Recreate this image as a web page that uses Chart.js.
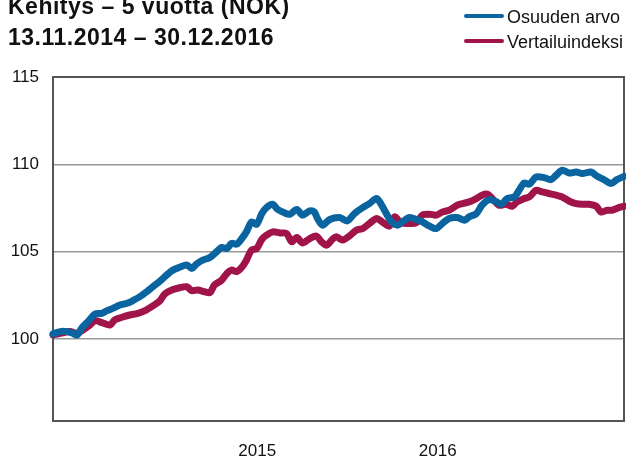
<!DOCTYPE html>
<html>
<head>
<meta charset="utf-8">
<script src="https://cdn.jsdelivr.net/npm/chart.js@4.4.1/dist/chart.umd.min.js"></script>
<style>
  html, body { margin: 0; padding: 0; background: #fff; }
  #wrap { position: relative; width: 626px; height: 457px; overflow: hidden; font-family: "Liberation Sans", Arial, sans-serif; }
  #c { position: absolute; left: 0; top: 0; }
  .title { position: absolute; left: 8px; font-weight: bold; font-size: 23px; line-height: 23px; letter-spacing: 0.5px; color: #111; white-space: nowrap; }
  .leg { position: absolute; left: 464px; font-size: 18px; line-height: 18px; color: #111; white-space: nowrap; }
  .leg span.sw { display: inline-block; width: 40px; height: 4px; border-radius: 2px; vertical-align: middle; margin-right: 3px; position: relative; top: -2px; }
</style>
</head>
<body>
<div id="wrap">
  <canvas id="c" width="626" height="457"></canvas>
  <div class="title" style="top:-5.5px">Kehitys – 5 vuotta (NOK)</div>
  <div class="title" style="top:25.5px">13.11.2014 – 30.12.2016</div>
  <div class="leg" style="top:8px"><span class="sw" style="background:#0a64a0"></span>Osuuden arvo</div>
  <div class="leg" style="top:33px"><span class="sw" style="background:#a0144a"></span>Vertailuindeksi</div>
</div>
<script>
// Series names
const seriesNames = ["Osuuden arvo", "Vertailuindeksi"];

// Osuuden arvo: week offsets from 13.11.2014 and index values
const blueWeeks = [0,1.4,2.7,3.9,4.7,5.6,6.8,8.2,9.5,10.5,11.6,13.0,14.4,15.5,16.9,18.2,19.4,20.8,22.1,23.3,24.6,26.0,27.0,27.9,29.1,30.5,31.8,32.8,33.8,34.7,35.7,36.7,37.6,38.6,39.6,40.6,41.5,42.7,43.7,45.0,46.0,47.4,48.5,49.9,50.8,51.4,52.4,53.8,55.7,57.2,58.6,60.2,61.5,62.9,63.8,64.8,65.8,67.0,67.9,69.3,70.6,71.8,73.2,74.5,75.7,77.0,78.6,80.0,80.9,82.3,83.4,84.8,86.2,87.1,88.3,89.7,90.6,91.6,92.6,93.9,95.5,96.8,97.8,99.0,100.3,101.7,102.9,104.6,105.8,107.1,108.5,109.6,111.0];
const blueValues = [100.29,100.42,100.42,100.32,100.23,100.63,100.99,101.43,101.47,101.62,101.75,101.94,102.04,102.19,102.42,102.70,102.99,103.31,103.66,103.94,104.10,104.23,104.04,104.29,104.51,104.67,104.99,105.24,105.18,105.47,105.43,105.75,106.13,106.70,106.57,107.18,107.52,107.71,107.41,107.22,107.14,107.41,107.09,107.33,107.27,106.90,106.51,106.84,106.95,106.76,107.18,107.52,107.75,108.04,107.71,107.18,106.70,106.51,106.70,106.95,106.84,106.70,106.46,106.32,106.61,106.90,106.95,106.80,106.99,107.18,107.66,107.98,107.85,107.71,108.04,108.13,108.51,108.93,108.86,109.27,109.24,109.12,109.37,109.66,109.50,109.56,109.47,109.56,109.31,109.12,108.90,109.12,109.31];

// Vertailuindeksi: week offsets and index values
const redWeeks = [0,1.4,3.3,4.7,5.8,7.2,8.2,9.5,11.1,12.0,13.4,14.9,16.5,17.9,19.4,20.8,21.7,23.1,24.6,26.0,27.0,28.1,29.5,30.5,31.4,32.8,33.8,34.7,35.7,36.7,37.6,38.6,39.6,40.6,41.5,42.7,44.1,45.4,46.4,47.4,48.5,49.9,51.2,52.2,53.2,54.3,55.1,56.3,57.6,59.0,60.2,61.5,62.9,64.0,65.4,66.4,67.7,69.3,70.6,71.8,73.2,74.5,75.7,77.0,78.6,79.6,80.9,82.3,83.4,84.4,85.4,86.7,88.1,89.3,90.2,91.6,92.6,93.9,95.1,96.4,97.8,99.0,100.3,101.7,102.9,104.2,105.6,106.5,107.7,108.7,110.0,111.0];
const redValues = [100.23,100.32,100.42,100.32,100.51,100.80,101.05,100.93,100.80,101.09,101.24,101.37,101.47,101.62,101.89,102.19,102.57,102.80,102.93,102.99,102.76,102.80,102.70,102.65,103.09,103.37,103.75,103.94,103.85,104.10,104.51,105.09,105.18,105.70,105.94,106.13,106.07,106.04,105.56,105.81,105.50,105.75,105.89,105.56,105.37,105.70,105.85,105.66,105.89,106.23,106.32,106.61,106.90,106.70,106.46,106.99,106.65,106.61,106.65,107.09,107.14,107.09,107.27,107.37,107.66,107.75,107.85,108.04,108.23,108.29,108.04,107.66,107.71,107.60,107.85,108.04,108.13,108.51,108.42,108.33,108.23,108.13,107.90,107.75,107.71,107.71,107.60,107.27,107.37,107.37,107.52,107.60];

// Axis ticks
const yTickValues = [100, 105, 110, 115];
const xTickWeeks = [39.7, 74.8];
const xTickLabels = ["2015", "2016"];

const toPoints = (xs, ys) => xs.map((x, i) => ({ x: x, y: ys[i] }));

const boxPlugin = {
  id: 'box',
  beforeDatasetsDraw(chart) {
    const a = chart.chartArea, ctx = chart.ctx;
    ctx.save();
    ctx.strokeStyle = '#555';
    ctx.lineWidth = 2;
    ctx.strokeRect(a.left, a.top, a.right - a.left, a.bottom - a.top);
    ctx.restore();
  }
};

new Chart(document.getElementById('c'), {
  type: 'line',
  data: {
    datasets: [
      { label: seriesNames[0], data: toPoints(blueWeeks, blueValues), borderColor: '#0a64a0', backgroundColor: '#0a64a0', borderWidth: 7, pointRadius: 0, tension: 0.3, borderCapStyle: 'round', borderJoinStyle: 'round' },
      { label: seriesNames[1], data: toPoints(redWeeks, redValues), borderColor: '#a0144a', backgroundColor: '#a0144a', borderWidth: 7, pointRadius: 0, tension: 0.3, borderCapStyle: 'round', borderJoinStyle: 'round', order: 1 }
    ]
  },
  options: {
    responsive: false,
    animation: false,
    clip: false,
    layout: { padding: { left: 0, right: 2, top: 77, bottom: 0 } },
    plugins: { legend: { display: false }, title: { display: false }, tooltip: { enabled: false } },
    scales: {
      x: {
        type: 'linear', min: 0, max: 111,
        grid: { display: false, drawTicks: false },
        border: { display: false },
        afterBuildTicks: (s) => { s.ticks = xTickWeeks.map(v => ({ value: v })); },
        afterFit: (s) => { s.height = 36; },
        ticks: {
          padding: 20, color: '#111', font: { family: 'Liberation Sans', size: 17 },
          autoSkip: false, maxRotation: 0,
          callback: (v) => { const i = xTickWeeks.indexOf(v); return i >= 0 ? xTickLabels[i] : ''; }
        }
      },
      y: {
        min: 95.3, max: 115,
        grid: { color: '#999', lineWidth: 1.5, drawTicks: false },
        border: { display: false },
        afterBuildTicks: (s) => { s.ticks = yTickValues.map(v => ({ value: v })); },
        afterFit: (s) => { s.width = 53; },
        ticks: { padding: 14, color: '#111', font: { family: 'Liberation Sans', size: 17 } }
      }
    }
  },
  plugins: [boxPlugin]
});
</script>
</body>
</html>
